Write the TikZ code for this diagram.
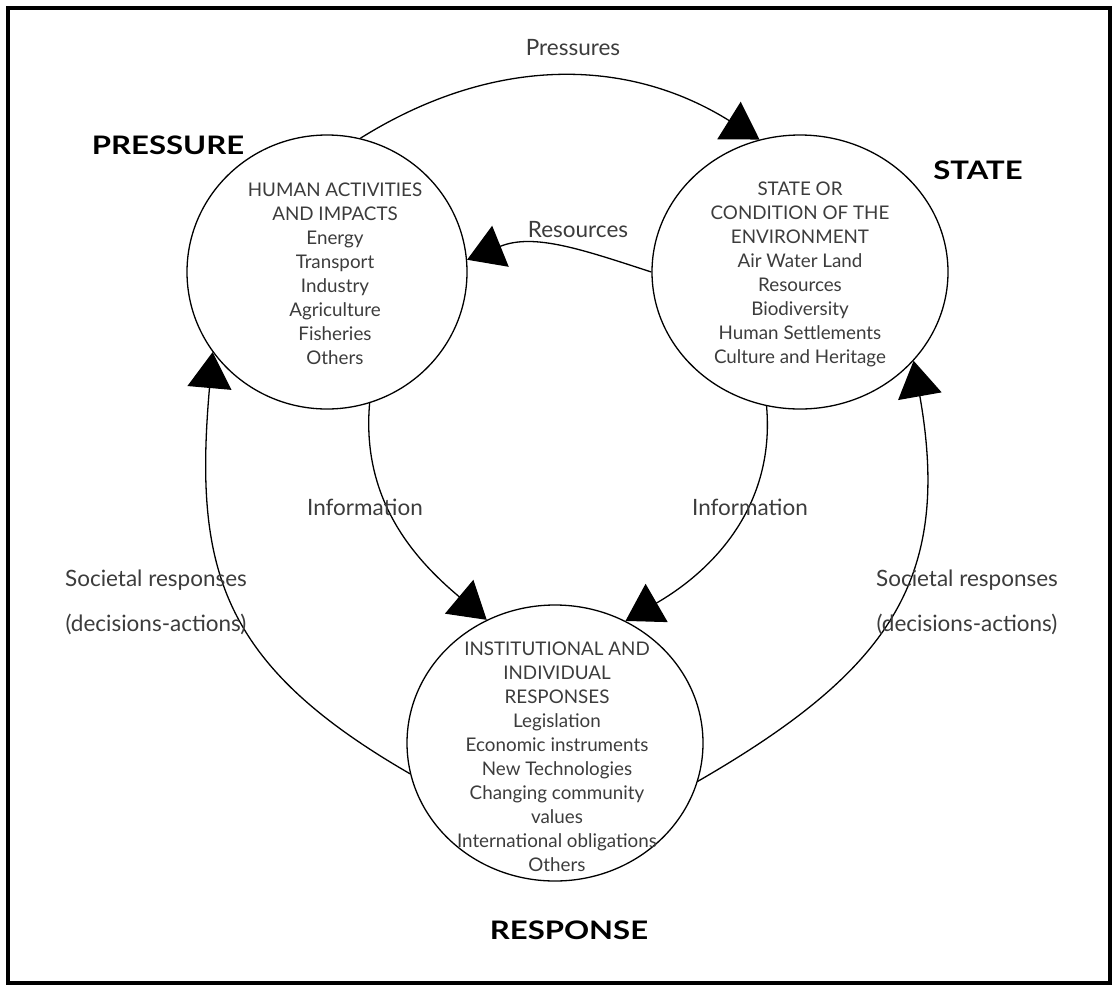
\documentclass[tikz,border=0pt]{standalone}
\usepackage{fontspec}
\setmainfont{Lato}
\newfontfamily\headfont[FakeStretch=1.22]{Lato Bold}
\usetikzlibrary{shapes.geometric,arrows.meta}
\definecolor{inkgray}{RGB}{60,60,60}

\begin{document}
\begin{tikzpicture}[x=1pt,y=1pt,
  blob/.style={ellipse,draw,line width=1.3pt,inner sep=0pt},
  inside/.style={align=center,text=inkgray,font=\fontsize{18.8}{24}\selectfont},
  flowlbl/.style={align=center,text=inkgray,font=\fontsize{22.5}{45}\selectfont},
  bigword/.style={font=\fontsize{25.5}{30}\headfont},
  flow/.style={line width=1.3pt,-{Triangle[length=36pt,width=44pt]}}]
  \useasboundingbox (0,0) rectangle (1117,-986);
  \draw[line width=3.5pt] (8,-8) rectangle (1110,-983);
  % the three circles
  \node[blob,minimum width=280,minimum height=274] (pres) at (327,-272) {};
  \node[blob,minimum width=296,minimum height=274] (state) at (800,-272) {};
  \node[blob,minimum width=296,minimum height=276] (resp) at (555,-743) {};
  \node[inside] (prestxt) at (335,-274) {HUMAN ACTIVITIES\\AND IMPACTS\\Energy\\Transport\\Industry\\Agriculture\\Fisheries\\Others};
  \node[inside] (statetxt) at (800,-274) {STATE OR\\CONDITION OF THE\\ENVIRONMENT\\Air Water Land\\Resources\\Biodiversity\\Human Settlements\\Culture and Heritage};
  \node[inside] (resptxt) at (557,-757) {INSTITUTIONAL AND\\INDIVIDUAL\\RESPONSES\\Legislation\\Economic instruments\\New Technologies\\Changing community\\values\\International obligations\\Others};
  % headings
  \node[bigword] (hpres) at (168,-145) {PRESSURE};
  \node[bigword] (hstate) at (978,-170) {STATE};
  \node[bigword] (hresp) at (569,-930) {RESPONSE};
  % flows
  \draw[flow] (pres.76) to[out=32,in=148] (state.107);
  \draw[flow] (state.180) to[out=162,in=22] (pres.5);
  \draw[flow] (pres.-72) to[out=-95,in=140] (resp.119);
  \draw[flow] (state.-104) to[out=-85,in=30] (resp.60);
  \draw[flow] (resp.192) to[out=150,in=-95,looseness=1.2] (pres.215);
  \draw[flow] (resp.-15) to[out=30,in=-80,looseness=1.2] (state.-38);
  \node[flowlbl] (lpres) at (573,-48) {Pressures};
  \node[flowlbl] (lres) at (578,-230) {Resources};
  \node[flowlbl] (linfoa) at (365,-507) {Information};
  \node[flowlbl] (linfob) at (750,-507) {Information};
  \node[flowlbl] (lsoca) at (156,-602) {Societal responses\\(decisions-actions)};
  \node[flowlbl] (lsocb) at (967,-602) {Societal responses\\(decisions-actions)};
\end{tikzpicture}
\end{document}
